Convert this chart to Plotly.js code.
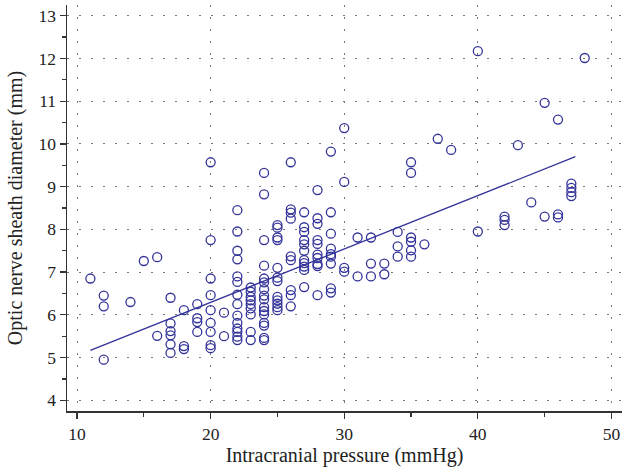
<!DOCTYPE html>
<html>
<head>
<meta charset="utf-8">
<script src="https://cdn.plot.ly/plotly-3.0.1.min.js"></script>
<style>html,body{margin:0;padding:0;background:#fff;}#chart{width:622px;height:468px;}</style>
</head>
<body>
<div id="chart"></div>
<script>
// Intracranial pressure (mmHg) for each patient
var icp = [
  11,
  12, 12, 12,
  14,
  15,
  16, 16,
  17, 17, 17, 17, 17, 17,
  18, 18, 18,
  19, 19, 19, 19,
  20, 20, 20, 20, 20, 20, 20, 20, 20,
  21, 21,
  22, 22, 22, 22, 22, 22, 22, 22, 22, 22, 22, 22, 22, 22,
  23, 23, 23, 23, 23, 23, 23, 23, 23,
  24, 24, 24, 24, 24, 24, 24, 24, 24, 24, 24, 24, 24, 24, 24, 24,
  25, 25, 25, 25, 25, 25, 25, 25, 25, 25, 25, 25,
  26, 26, 26, 26, 26, 26, 26, 26, 26,
  27, 27, 27, 27, 27, 27, 27, 27, 27, 27, 27,
  28, 28, 28, 28, 28, 28, 28, 28, 28, 28,
  29, 29, 29, 29, 29, 29, 29, 29, 29,
  30, 30, 30, 30,
  31, 31,
  32, 32, 32,
  33, 33,
  34, 34, 34,
  35, 35, 35, 35, 35, 35,
  36,
  37,
  38,
  40, 40,
  42, 42, 42,
  43,
  44,
  45, 45,
  46, 46, 46,
  47, 47, 47, 47,
  48
];
// Optic nerve sheath diameter (mm), same order
var onsd = [
  6.85,
  6.45, 6.20, 4.95,
  6.30,
  7.26,
  7.35, 5.51,
  6.40, 5.80, 5.62, 5.52, 5.31, 5.11,
  6.11, 5.27, 5.20,
  6.25, 5.92, 5.83, 5.60,
  9.57, 7.75, 6.85, 6.46, 6.11, 5.81, 5.60, 5.29, 5.22,
  6.05, 5.50,
  8.45, 7.95, 7.50, 7.30, 6.90, 6.77, 6.47, 6.25, 5.98, 5.81, 5.68, 5.60, 5.49, 5.41,
  6.64, 6.54, 6.42, 6.34, 6.25, 6.15, 6.01, 5.60, 5.41,
  9.32, 8.82, 7.75, 7.15, 6.85, 6.76, 6.60, 6.45, 6.36, 6.18, 6.09, 6.01, 5.81, 5.75, 5.46, 5.41,
  8.10, 8.04, 7.81, 7.75, 7.10, 6.87, 6.79, 6.42, 6.34, 6.26, 6.18, 6.11,
  9.57, 8.47, 8.39, 8.25, 7.37, 7.28, 6.58, 6.46, 6.20,
  8.40, 8.05, 7.94, 7.75, 7.65, 7.50, 7.28, 7.21, 7.13, 7.05, 6.65,
  8.92, 8.26, 8.13, 7.75, 7.66, 7.41, 7.33, 7.19, 7.14, 6.46,
  9.82, 8.40, 7.90, 7.55, 7.42, 7.36, 7.20, 6.62, 6.52,
  10.37, 9.11, 7.10, 7.01,
  7.81, 6.90,
  7.81, 7.20, 6.90,
  7.20, 6.95,
  7.94, 7.60, 7.36,
  9.57, 9.32, 7.81, 7.71, 7.51, 7.36,
  7.65,
  10.12,
  9.86,
  12.17, 7.95,
  8.30, 8.22, 8.10,
  9.97,
  8.63,
  10.96, 8.30,
  10.57, 8.35, 8.28,
  9.07, 8.97, 8.87, 8.78,
  12.01
];
// Regression line end points
var fitX = [11, 47.3];
var fitY = [5.17, 9.70];

var xTicks = [10, 20, 30, 40, 50];
var yTicks = [4, 5, 6, 7, 8, 9, 10, 11, 12, 13];

var blue = '#33339a';
var font = 'Liberation Serif, Times New Roman, serif';

var traces = [
  {x: icp, y: onsd, type: 'scatter', mode: 'markers',
   marker: {symbol: 'circle-open', size: 9, color: blue, line: {width: 1.3, color: blue}},
   hoverinfo: 'x+y', showlegend: false},
  {x: fitX, y: fitY, type: 'scatter', mode: 'lines',
   line: {color: blue, width: 1.3}, hoverinfo: 'skip', showlegend: false}
];

var axisCommon = {
  showline: true, linecolor: '#333', linewidth: 1.5,
  ticks: 'outside', ticklen: 6, tickwidth: 1.3, tickcolor: '#333',
  showgrid: true, gridcolor: '#777', gridwidth: 1, griddash: '1.5px,10.5px',
  zeroline: false, mirror: false,
  tickfont: {family: font, size: 17.5, color: '#222'}
};

var layout = {
  width: 622, height: 468,
  margin: {l: 67, r: 0, t: 5, b: 57},
  paper_bgcolor: '#fff', plot_bgcolor: '#fff',
  xaxis: Object.assign({}, axisCommon, {
    range: [9.25, 50.79], tickmode: 'array', tickvals: xTicks, ticktext: xTicks.map(String),
    minor: {dtick: 5, tick0: 0, ticks: 'outside', ticklen: 4, tickwidth: 1.2, tickcolor: '#333', showgrid: false},
    title: {text: 'Intracranial pressure (mmHg)', font: {family: font, size: 20, color: '#222'}, standoff: 3}
  }),
  yaxis: Object.assign({}, axisCommon, {
    range: [3.75, 13.25], tickmode: 'array', tickvals: yTicks, ticktext: yTicks.map(String),
    minor: {dtick: 0.5, tick0: 0, ticks: 'outside', ticklen: 4, tickwidth: 1.2, tickcolor: '#333', showgrid: false},
    title: {text: 'Optic nerve sheath diameter (mm)', font: {family: font, size: 20, color: '#222'}, standoff: 10}
  })
};

Plotly.newPlot('chart', traces, layout, {displayModeBar: false, staticPlot: true});
</script>
</body>
</html>
